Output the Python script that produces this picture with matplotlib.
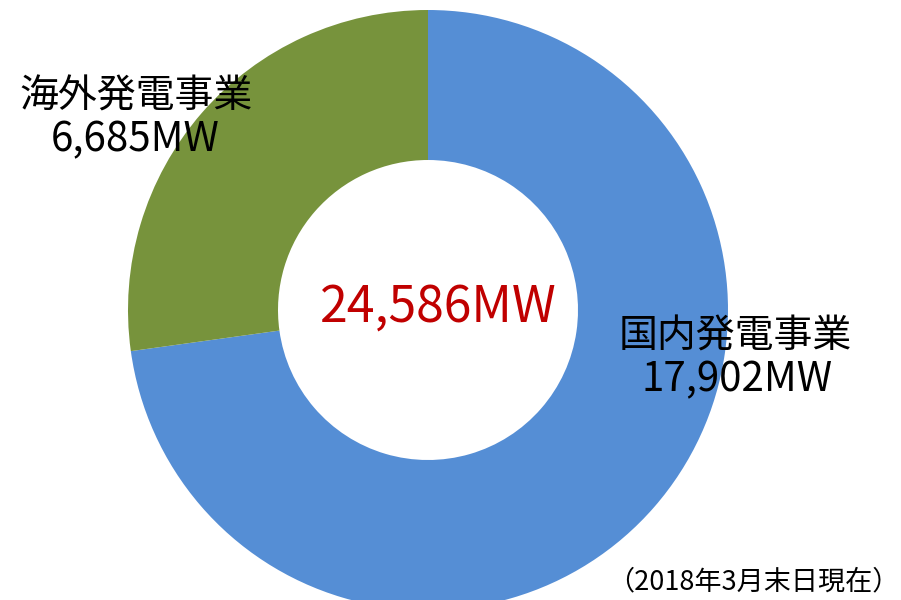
import matplotlib
matplotlib.use("Agg")
import matplotlib.pyplot as plt

plt.rcParams['font.family'] = ['Noto Sans CJK JP', 'DejaVu Sans']

# -----------------------------
# Data
# -----------------------------
labels = ["国内発電事業", "海外発電事業"]
values = [17902, 6685]
value_labels = ["17,902MW", "6,685MW"]
total_label = "24,586MW"
note = "（2018年3月末日現在）"
colors = ["#558ED5", "#77933C"]

# -----------------------------
# Donut chart
# -----------------------------
fig = plt.figure(figsize=(9.01, 6.0), dpi=100)
ax = fig.add_axes([0, 0, 1, 1])

ax.pie(values, colors=colors, startangle=90, counterclock=False,
       center=(428, 290), radius=300,
       wedgeprops=dict(width=150, edgecolor="none"))
ax.set_xlim(0, 901)
ax.set_ylim(0, 600)
ax.set_aspect("equal")
ax.axis("off")

# labels
ax.text(735, 263, labels[0], fontsize=28, ha="center", va="center")
ax.text(737, 220, value_labels[0], fontsize=29, ha="center", va="center")
ax.text(136, 503, labels[1], fontsize=28, ha="center", va="center")
ax.text(135, 460, value_labels[1], fontsize=29, ha="center", va="center")

ax.text(438, 292, total_label, fontsize=36, color="#C00000", ha="center", va="center")
ax.text(899, 18, note, fontsize=19.5, ha="right", va="center")

fig.savefig("out.png", dpi=100)
